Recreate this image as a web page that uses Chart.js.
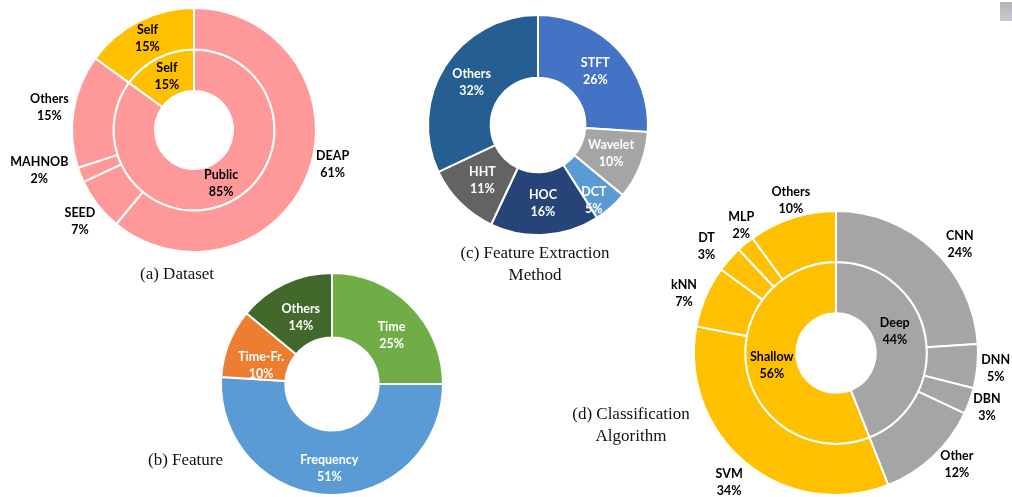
<!DOCTYPE html>
<html>
<head>
<meta charset="utf-8">
<script src="https://cdn.jsdelivr.net/npm/chart.js@4.4.1/dist/chart.umd.min.js"></script>
<style>
    body { margin: 0; background: #fff; width: 1012px; height: 497px; overflow: hidden; position: relative; }
    canvas { position: absolute; }
    .cap { position: absolute; font-family: "Liberation Serif", "Times New Roman", serif; font-size: 17px; color: #111; text-align: center; line-height: 22px; white-space: nowrap; }
    .mark { position: absolute; left: 1000px; top: 2px; width: 12px; height: 19px; background: linear-gradient(#b4b4b4, #c8c8d4); }
</style>
</head>
<body>
<canvas id="datasetChart" width="440" height="440" style="left:-26px;top:-90px"></canvas>
<canvas id="featureChart" width="440" height="440" style="left:112px;top:164px"></canvas>
<canvas id="extractionChart" width="440" height="440" style="left:318px;top:-95px"></canvas>
<canvas id="classifierChart" width="440" height="440" style="left:616px;top:133px"></canvas>

<div class="cap" style="left:140px;top:263px">(a) Dataset</div>
<div class="cap" style="left:148px;top:449px">(b) Feature</div>
<div class="cap" style="left:453px;top:242px;width:164px">(c) Feature Extraction<br>Method</div>
<div class="cap" style="left:566px;top:403px;width:130px">(d) Classification<br>Algorithm</div>
<div class="mark"></div>

<script>
// (a) Dataset
const datasetLabels = ['DEAP', 'SEED', 'MAHNOB', 'Others', 'Self'];
const datasetValues = [61, 7, 2, 15, 15];
const datasetTypeLabels = ['Public', 'Self'];
const datasetTypeValues = [85, 15];

// (b) Feature
const featureLabels = ['Time', 'Frequency', 'Time-Fr.', 'Others'];
const featureValues = [25, 51, 10, 14];

// (c) Feature Extraction Method
const extractionLabels = ['STFT', 'Wavelet', 'DCT', 'HOC', 'HHT', 'Others'];
const extractionValues = [26, 10, 5, 16, 11, 32];

// (d) Classification Algorithm
const classifierLabels = ['CNN', 'DNN', 'DBN', 'Other', 'SVM', 'kNN', 'DT', 'MLP', 'Others'];
const classifierValues = [24, 5, 3, 12, 34, 7, 3, 2, 10];
const classifierTypeLabels = ['Deep', 'Shallow'];
const classifierTypeValues = [44, 56];

const PINK = '#FF9999', GOLD = '#FFC000', GREY = '#A5A5A5';

// draws "name / value%" for every slice
// place: per dataset, [radius factor of the outer radius, angle shift in degrees]
// (missing = middle of the ring, no shift)
const makeSliceLabels = (names, color, place) => ({
    id: 'sliceLabels',
    afterDatasetsDraw(chart) {
        const ctx = chart.ctx;
        const outerR = chart.getDatasetMeta(0).data[0].outerRadius;
        ctx.save();
        ctx.font = 'bold 12.5px Lato, "Open Sans", sans-serif';
        ctx.textAlign = 'center';
        ctx.textBaseline = 'middle';
        ctx.fillStyle = color;
        chart.data.datasets.forEach((ds, di) => {
            const meta = chart.getDatasetMeta(di);
            const pl = place[di] || {};
            meta.data.forEach((arc, i) => {
                let mid = (arc.startAngle + arc.endAngle) / 2;
                let r = (arc.innerRadius + arc.outerRadius) / 2;
                const f = (i in pl) ? pl[i] : pl.all;
                if (f) {
                    if (f[0]) r = outerR * f[0];
                    mid += (f[1] || 0) * Math.PI / 180;
                }
                const x = arc.x + Math.cos(mid) * r;
                const y = arc.y + Math.sin(mid) * r;
                ctx.fillText(names[di][i], x, y - 8.5);
                ctx.fillText(ds.data[i] + '%', x, y + 8.5);
            });
        });
        ctx.restore();
    }
});

const baseOptions = (radius, cutout) => ({
    responsive: false,
    animation: false,
    radius: radius,
    cutout: cutout,
    layout: { padding: 0 },
    plugins: {
        legend: { display: false },
        tooltip: { enabled: false }
    }
});

new Chart(document.getElementById('datasetChart').getContext('2d'), {
    type: 'doughnut',
    data: {
        labels: datasetLabels,
        datasets: [{
            data: datasetValues,
            backgroundColor: [PINK, PINK, PINK, PINK, GOLD],
            borderColor: '#fff',
            borderWidth: 2
        }, {
            data: datasetTypeValues,
            backgroundColor: [PINK, GOLD],
            borderColor: '#fff',
            borderWidth: 2
        }]
    },
    options: baseOptions(122, '32%'),
    plugins: [makeSliceLabels([datasetLabels, datasetTypeLabels], '#000', [
        { 0: [1.17, -6], 1: [1.2, -1], 2: [1.31, 7], 3: [1.2, 0], 4: [0.84, 0] },
        {}
    ])]
});

new Chart(document.getElementById('featureChart').getContext('2d'), {
    type: 'doughnut',
    data: {
        labels: featureLabels,
        datasets: [{
            data: featureValues,
            backgroundColor: ['#70AD47', '#5B9BD5', '#ED7D31', '#43682B'],
            borderColor: '#fff',
            borderWidth: 2
        }]
    },
    options: baseOptions(111, '42%'),
    plugins: [makeSliceLabels([featureLabels], '#fff', [{ 0: [0.69, 6], 1: [0.76, 0], 2: [0.66, -7], 3: [0.66, 0] }])]
});

new Chart(document.getElementById('extractionChart').getContext('2d'), {
    type: 'doughnut',
    data: {
        labels: extractionLabels,
        datasets: [{
            data: extractionValues,
            backgroundColor: ['#4472C4', '#A5A5A5', '#5B9BD5', '#264478', '#636363', '#255E91'],
            borderColor: '#fff',
            borderWidth: 2
        }]
    },
    options: baseOptions(110, '43%'),
    plugins: [makeSliceLabels([extractionLabels], '#fff', [{ 2: [0.855, 5] }])]
});

new Chart(document.getElementById('classifierChart').getContext('2d'), {
    type: 'doughnut',
    data: {
        labels: classifierLabels,
        datasets: [{
            data: classifierValues,
            backgroundColor: [GREY, GREY, GREY, GREY, GOLD, GOLD, GOLD, GOLD, GOLD],
            borderColor: '#fff',
            borderWidth: 2
        }, {
            data: classifierTypeValues,
            backgroundColor: [GREY, GOLD],
            borderColor: '#fff',
            borderWidth: 2
        }]
    },
    options: baseOptions(142, '28%'),
    plugins: [makeSliceLabels([classifierLabels, classifierTypeLabels], '#000', [
        { 0: [1.16, 5.5], 1: [1.13, 0], 2: [1.13, 0], 3: [1.16, -4], 4: [1.18, 0],
          5: [1.15, -2], 6: [1.18, -2], 7: [1.12, 3], 8: [1.12, 1.5] },
        { 0: [0.44, -9] }
    ])]
});
</script>
</body>
</html>
